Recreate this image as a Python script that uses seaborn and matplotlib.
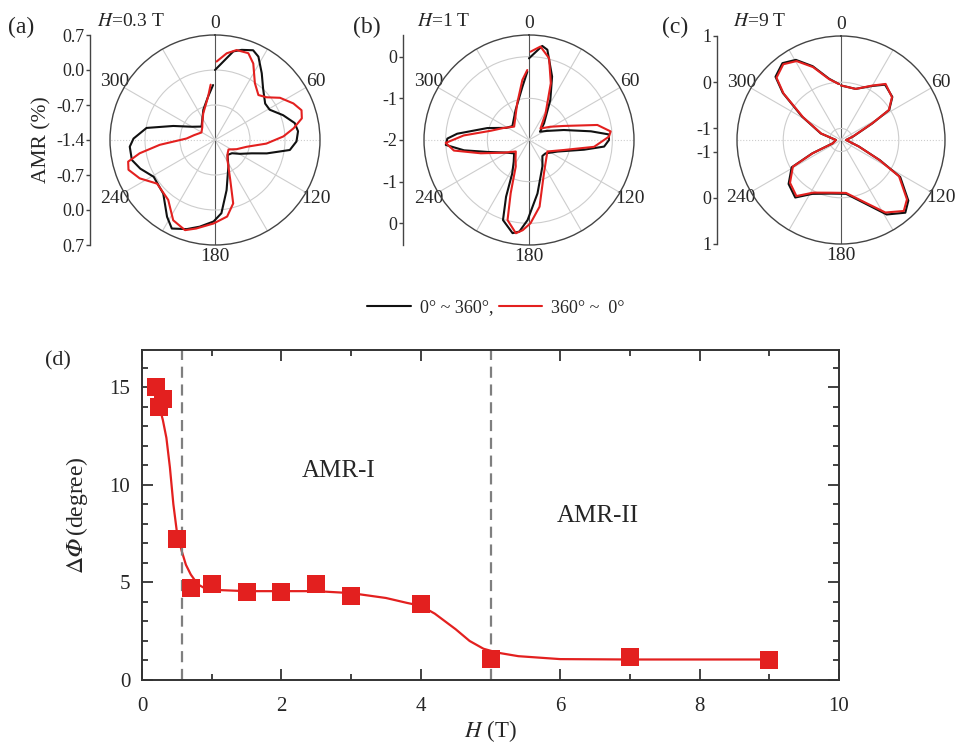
import numpy as np
import pandas as pd
import seaborn as sns
import matplotlib.pyplot as plt
from matplotlib.lines import Line2D
from matplotlib.ticker import MultipleLocator

# ---------------- data ----------------
# (a) H = 0.3 T, AMR (%) vs field angle (deg)
a_black_deg = [0, 11.7, 16.5, 23, 27.5, 35, 43, 54, 61, 70, 78, 84, 91, 97.6, 104.5, 110, 119, 128,
               140, 153, 167, 175, 181, 190, 197.6, 206, 212, 224, 239, 249, 256.5, 265.5, 271, 280,
               288.6, 300, 315, 339, 351, 358]
a_black_amr = [0.00, 0.41, 0.48, 0.55, 0.48, 0.23, 0.01, -0.16, -0.15, 0.05, 0.23, 0.27, 0.23, 0.11,
               -0.33, -0.62, -0.83, -0.97, -1.01, -0.81, -0.37, 0.07, 0.23, 0.36, 0.47, 0.57, 0.41, 0.09,
               0.03, 0.20, 0.31, 0.31, 0.23, -0.01, -0.52, -0.87, -1.02, -0.75, -0.52, -0.30]
a_red_deg = [1.2, 7.7, 13.5, 21, 26.6, 35, 44, 50.4, 57, 65, 71, 76, 81.5, 87, 94, 102, 113, 125, 137,
             148, 159, 164, 171, 181, 192, 198.4, 207.5, 218, 233, 243, 251, 256, 260, 265, 273, 283,
             299, 315, 325, 336, 351, 355.5]
a_red_amr = [0.17, 0.35, 0.45, 0.46, 0.31, -0.01, -0.15, -0.06, 0.15, 0.33, 0.43, 0.39, 0.19, -0.03,
             -0.37, -0.75, -0.93, -1.07, -1.03, -0.93, -0.55, -0.08, 0.15, 0.27, 0.41, 0.50, 0.41, 0.12,
             0.05, 0.29, 0.43, 0.39, 0.13, -0.29, -0.83, -0.97, -1.09, -1.04, -0.96, -0.82, -0.52, -0.29]

# (b) H = 1 T
b_black_deg = [0, 8, 11.5, 20, 28, 42, 53, 63, 74, 82, 86, 90, 95, 100, 112, 129, 140, 153, 171, 181,
               186, 190, 198, 202, 206.6, 215, 228, 242, 254, 261, 266.6, 271, 275, 286, 298, 310, 336,
               353, 358.6]
b_black_amr = [-0.04, 0.28, 0.21, -0.38, -0.91, -1.46, -1.67, -1.52, -1.13, -0.50, -0.08, -0.08, -0.19,
               -0.66, -1.26, -1.49, -1.50, -1.29, -0.70, -0.08, 0.21, 0.27, 0.02, -0.53, -1.10, -1.36,
               -1.52, -1.36, -0.96, -0.42, 0.00, -0.04, -0.27, -0.96, -1.38, -1.48, -1.21, -0.71, -0.36]
b_red_deg = [1, 7, 13.8, 21, 32, 45, 58, 68, 77.6, 84, 87.6, 96, 106, 122, 156, 171, 179, 184, 188, 195,
             199, 206.6, 216, 229, 243, 254.6, 262, 268, 274, 283.7, 295, 312, 342, 353.7, 358.6]
b_red_amr = [0.12, 0.26, 0.02, -0.54, -1.25, -1.61, -1.40, -1.10, -0.32, -0.03, -0.08, -0.43, -1.13,
             -1.48, -1.12, -0.38, 0.00, 0.17, 0.26, -0.01, -0.65, -1.29, -1.45, -1.58, -1.33, -0.80,
             -0.18, 0.00, -0.43, -1.06, -1.32, -1.52, -1.08, -0.55, -0.32]

# (c) H = 9 T
c_deg = [0, 16, 30, 38.5, 50, 58, 62, 74, 90, 110, 117.5, 122, 132, 138.5, 148.5, 158.5, 174.6, 190.6,
         208, 218.5, 230, 241, 245, 248, 270, 288, 301, 309, 314, 322.7, 330.6, 339, 349, 358]
c_black_amr = [-0.07, -0.10, 0.10, 0.28, 0.20, -0.02, -0.48, -0.98, -1.14, -0.84, -0.30, 0.26, 0.71,
               0.85, 0.64, 0.24, -0.08, -0.07, 0.07, 0.34, 0.23, -0.03, -0.56, -1.05, -1.14, -0.79,
               -0.27, 0.37, 0.72, 0.84, 0.74, 0.46, 0.10, -0.04]
c_red_amr = [-0.07, -0.10, 0.11, 0.30, 0.19, -0.03, -0.49, -0.99, -1.14, -0.84, -0.32, 0.23, 0.67,
             0.80, 0.59, 0.21, -0.10, -0.09, 0.04, 0.30, 0.19, -0.06, -0.58, -1.06, -1.14, -0.80,
             -0.29, 0.35, 0.69, 0.81, 0.71, 0.44, 0.09, -0.04]

# radial scale of each polar panel: (value at centre, value at rim), grid circles, side-axis labels
a_rlim, a_rgrid, a_side = (-1.4, 0.7), [-0.7, 0.0], [0.7, 0.0, -0.7, -1.4]
b_rlim, b_rgrid, b_side = (-2.0, 0.52), [-1.0, 0.0], [0.0, -1.0, -2.0]
c_rlim, c_rgrid, c_side = (-1.25, 1.0), [-1.0, 0.0], [1.0, 0.0, -1.0]
a_side_labels = ["0.7", "0.0", "-0.7", "-1.4"]
b_side_labels = ["0", "-1", "-2"]
c_side_labels = ["1", "0", "-1"]
theta_labels = ["0", "", "60", "", "120", "", "180", "", "240", "", "300", ""]

# (d) phase shift vs field
field_T = [0.2, 0.25, 0.3, 0.5, 0.7, 1.0, 1.5, 2.0, 2.5, 3.0, 4.0, 5.0, 7.0, 9.0]
dphi_deg = [15.0, 14.0, 14.4, 7.2, 4.7, 4.9, 4.5, 4.5, 4.9, 4.3, 3.9, 1.1, 1.2, 1.0]
fit_field = [0.25, 0.3, 0.35, 0.4, 0.45, 0.5, 0.57, 0.63, 0.7, 0.8, 0.9, 1.0, 1.5, 2.0, 2.5, 3.0, 3.5,
             3.8, 4.0, 4.2, 4.5, 4.7, 4.9, 5.1, 5.4, 5.8, 6.0, 7.0, 8.0, 9.0]
fit_dphi = [14.0, 13.3, 12.4, 10.9, 9.0, 7.6, 6.6, 5.9, 5.4, 4.9, 4.7, 4.62, 4.55, 4.55, 4.55, 4.45,
            4.2, 3.95, 3.8, 3.4, 2.6, 2.0, 1.6, 1.4, 1.22, 1.12, 1.07, 1.05, 1.05, 1.05]
boundaries_T = [0.57, 5.0]

# ---------------- style ----------------
sns.set_style("ticks")
plt.rcParams["font.family"] = ["Liberation Serif", "DejaVu Serif"]
plt.rcParams["mathtext.fontset"] = "stix"
RED = "#e3201f"
BLACK = "#111111"
W, H = 964, 743

fig = plt.figure(figsize=(9.64, 7.43), dpi=100)


def px_box(x0, y0, x1, y1):
    return [x0 / W, 1 - y1 / H, (x1 - x0) / W, (y1 - y0) / H]


panels = [
    dict(tag="(a)", field="$H$=0.3 T", cx=215, cy=140, R=105, side_x=90, tag_x=8, field_x=97,
         black=(a_black_deg, a_black_amr), red=(a_red_deg, a_red_amr),
         rlim=a_rlim, rgrid=a_rgrid, side=a_side, side_labels=a_side_labels),
    dict(tag="(b)", field="$H$=1 T", cx=529, cy=140, R=105, side_x=403, tag_x=353, field_x=417,
         black=(b_black_deg, b_black_amr), red=(b_red_deg, b_red_amr),
         rlim=b_rlim, rgrid=b_rgrid, side=b_side, side_labels=b_side_labels),
    dict(tag="(c)", field="$H$=9 T", cx=841, cy=140, R=104, side_x=717, tag_x=662, field_x=733,
         black=(c_deg, c_black_amr), red=(c_deg, c_red_amr),
         rlim=c_rlim, rgrid=c_rgrid, side=c_side, side_labels=c_side_labels),
]

for p in panels:
    cx, cy, R = p["cx"], p["cy"], p["R"]
    ax = fig.add_axes(px_box(cx - R, cy - R, cx + R, cy + R), projection="polar")
    ax.set_theta_zero_location("N")
    ax.set_theta_direction(-1)

    for (deg, amr), col in ((p["black"], BLACK), (p["red"], RED)):
        df = pd.DataFrame({"theta": np.deg2rad(deg), "amr": amr})
        sns.lineplot(data=df, x="theta", y="amr", ax=ax, sort=False, color=col, lw=1.5,
                     estimator=None)
    ax.set_xlabel("")
    ax.set_ylabel("")
    ax.set_rlim(*p["rlim"])
    ax.set_rgrids(p["rgrid"], labels=[""] * len(p["rgrid"]))
    ax.set_thetagrids(np.arange(0, 360, 30), labels=theta_labels, fontsize=14)
    ax.tick_params(axis="x", pad=1, length=0)
    ax.grid(True, color="#cdcdcd", lw=0.8)
    gl = ax.xaxis.get_gridlines()
    for i in (0, 6):
        gl[i].set_color("#555555")
    for i in (3, 9):
        gl[i].set_linestyle(":")
    ax.spines["polar"].set_color("#444444")
    ax.spines["polar"].set_linewidth(1.0)

    # mirrored radial scale drawn on the left, Origin style
    rmin, rmax = p["rlim"]
    span = rmax - rmin
    up = np.array(p["side"]) - rmin
    pos = np.concatenate([up, -up[::-1]])
    labs = p["side_labels"] + p["side_labels"][::-1]
    if up[-1] == 0:
        pos = np.concatenate([up, -up[-2::-1]])
        labs = p["side_labels"] + p["side_labels"][-2::-1]
    sx = p["side_x"]
    axs = fig.add_axes(px_box(sx, cy - R, sx + 1, cy + R))
    axs.set_ylim(-span, span)
    axs.set_yticks(pos, labels=labs)
    axs.set_xticks([])
    for s in ("top", "right", "bottom"):
        axs.spines[s].set_visible(False)
    axs.spines["left"].set_color("#444444")
    axs.spines["left"].set_linewidth(1.0)
    axs.tick_params(axis="y", direction="out", length=3, width=1, pad=1, labelsize=13,
                    color="#444444")
    axs.patch.set_alpha(0)
    if p["tag"] == "(a)":
        axs.set_ylabel("AMR (%)", fontsize=15.5, labelpad=3)

    fig.text(p["tag_x"] / W, 1 - 27 / H, p["tag"], fontsize=17, ha="left", va="center")
    fig.text(p["field_x"] / W, 1 - 21 / H, p["field"], fontsize=14, ha="left", va="center")

fig.legend(handles=[Line2D([], [], color=BLACK, lw=1.5), Line2D([], [], color=RED, lw=1.5)],
           labels=["0° ~ 360°,", "360° ~  0°"], loc="center",
           bbox_to_anchor=(496 / W, 1 - 308 / H), ncol=2, frameon=False, fontsize=13,
           handlelength=2.4, handletextpad=0.5, columnspacing=0.3)

# ---------------- (d) ----------------
ax_d = fig.add_axes(px_box(142, 350, 839, 680))
sns.lineplot(x=fit_field, y=fit_dphi, ax=ax_d, color=RED, lw=1.6, sort=False, estimator=None)
sns.scatterplot(x=field_T, y=dphi_deg, ax=ax_d, marker="s", s=170, color=RED, linewidth=0,
                zorder=3)
for b in boundaries_T:
    ax_d.axvline(b, color="#7f7f7f", lw=1.6, ls=(0, (5, 3)))
ax_d.set_xlim(0, 10)
ax_d.set_ylim(0, 16.9)
ax_d.xaxis.set_major_locator(MultipleLocator(2))
ax_d.xaxis.set_minor_locator(MultipleLocator(1))
ax_d.yaxis.set_major_locator(MultipleLocator(5))
ax_d.yaxis.set_minor_locator(MultipleLocator(1))
ax_d.tick_params(which="both", direction="in", top=True, right=True, color="#333333", width=1.3,
                 labelsize=15)
ax_d.tick_params(which="major", length=8)
ax_d.tick_params(which="minor", length=4.5)
ax_d.tick_params(axis="x", which="both", pad=12)
ax_d.tick_params(axis="y", which="both", pad=8.5)
for s in ax_d.spines.values():
    s.set_color("#333333")
    s.set_linewidth(1.4)
ax_d.set_xlabel("$H$ (T)", fontsize=16.5, labelpad=1.5)
ax_d.set_ylabel("$\\Delta\U0001D6F7\\,$(degree)", fontsize=17, labelpad=14)
ax_d.text(2.82, 10.7, "AMR-I", fontsize=18, ha="center", va="center")
ax_d.text(6.54, 8.4, "AMR-II", fontsize=18, ha="center", va="center")
fig.text(58 / W, 1 - 361 / H, "(d)", fontsize=16, ha="center", va="center")

fig.savefig("out.png", dpi=100)
